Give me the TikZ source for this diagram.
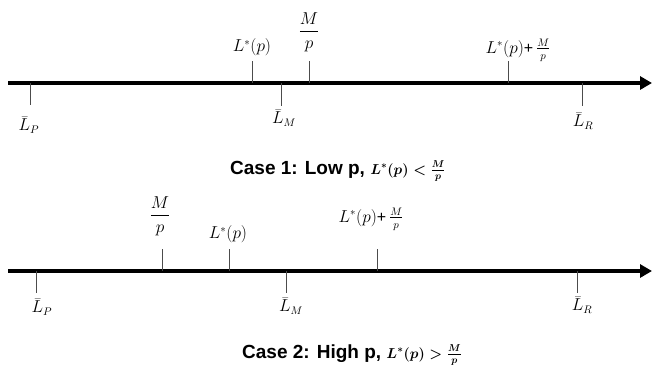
\documentclass[tikz,border=0pt]{standalone}
\usepackage{amsmath}
\usepackage{fontspec}
\setmainfont{Liberation Sans}
\usetikzlibrary{arrows.meta}
\newcommand{\casemath}[1]{{\fontsize{14.5}{17}\selectfont\boldmath$#1$}}
\begin{document}
\begin{tikzpicture}[x=1pt,y=-1pt,
  axis/.style={line width=3.8pt,-{Triangle[length=12pt,width=13pt]}},
  tick/.style={line width=0.7pt,black!70},
  lbl/.style={inner sep=0pt,font=\fontsize{16}{19}\selectfont},
  cas/.style={inner sep=0pt,anchor=base west,font=\fontsize{19}{22}\selectfont\bfseries}]
\useasboundingbox (0,0) rectangle (652,368);
% ---- case 1
\coordinate (a1s) at (8,83);
\coordinate (a1e) at (652,83);
\draw[axis] (a1s) -- (a1e);
\coordinate (t1a) at (252,61); \coordinate (b1a) at (252,83);
\coordinate (t1b) at (309,61); \coordinate (b1b) at (309,83);
\coordinate (t1c) at (508,61); \coordinate (b1c) at (508,83);
\coordinate (t1d) at (30,83);  \coordinate (b1d) at (30,105);
\coordinate (t1e) at (281,83); \coordinate (b1e) at (281,106);
\coordinate (t1f) at (582,83); \coordinate (b1f) at (582,106);
\foreach \k in {a,b,c,d,e,f} \draw[tick] (t1\k) -- (b1\k);
\node[lbl] (l1a) at (252,47) {$L^*(p)$};
\node[lbl] (l1b) at (309,32) {$\dfrac{M}{p}$};
\node[lbl] (l1c) at (518,50) {$L^*(p)\text{+}\,\frac{M}{p}$};
\node[lbl] (l1d) at (29,125) {$\bar{L}_P$};
\node[lbl] (l1e) at (284,118) {$\bar{L}_M$};
\node[lbl] (l1f) at (583,121) {$\bar{L}_R$};
\node[cas] (c1) at (230,174) {Case 1: Low p, \casemath{L^*(p) < \frac{M}{p}}};
% ---- case 2
\coordinate (a2s) at (8,271);
\coordinate (a2e) at (652,271);
\draw[axis] (a2s) -- (a2e);
\coordinate (t2a) at (162,249); \coordinate (b2a) at (162,271);
\coordinate (t2b) at (229,249); \coordinate (b2b) at (229,271);
\coordinate (t2c) at (377,249); \coordinate (b2c) at (377,271);
\coordinate (t2d) at (36,271);  \coordinate (b2d) at (36,293);
\coordinate (t2e) at (286,271); \coordinate (b2e) at (286,293);
\coordinate (t2f) at (577,271); \coordinate (b2f) at (577,293);
\foreach \k in {a,b,c,d,e,f} \draw[tick] (t2\k) -- (b2\k);
\node[lbl] (l2a) at (160,216) {$\dfrac{M}{p}$};
\node[lbl] (l2b) at (228,234) {$L^*(p)$};
\node[lbl] (l2c) at (371,219) {$L^*(p)\text{+}\,\frac{M}{p}$};
\node[lbl] (l2d) at (42,307) {$\bar{L}_P$};
\node[lbl] (l2e) at (291,306) {$\bar{L}_M$};
\node[lbl] (l2f) at (582,305) {$\bar{L}_R$};
\node[cas] (c2) at (242,358) {Case 2: High p, \casemath{L^*(p) > \frac{M}{p}}};
\end{tikzpicture}
\end{document}
